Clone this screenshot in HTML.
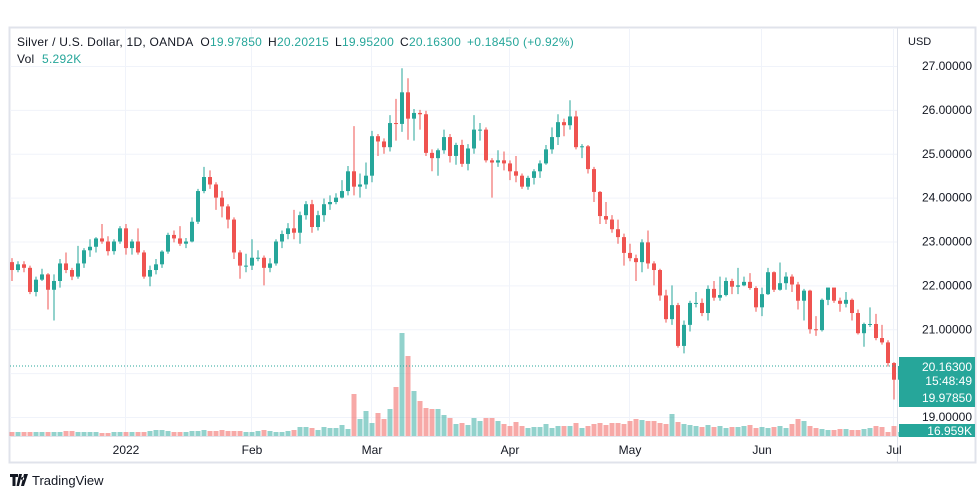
<!DOCTYPE html>
<html><head><meta charset="utf-8"><style>
html,body{margin:0;padding:0;background:#fff;width:979px;height:498px;overflow:hidden}
svg{display:block;font-family:"Liberation Sans",sans-serif}
</style></head><body>
<svg id="chart" width="979" height="498" viewBox="0 0 979 498">
<rect x="9.5" y="27.5" width="966" height="435" fill="#fff" stroke="#e0e3eb" stroke-width="2"/>
<g id="grid"></g>
<g id="vol"></g>
<g id="candles"></g>
<line x1="897.5" y1="28" x2="897.5" y2="462" stroke="#e0e3eb"/>
<line x1="10" y1="436.5" x2="975" y2="436.5" stroke="#e0e3eb"/>
<g id="yaxis"></g>
<g id="xaxis"></g>
<text x="17" y="46" font-size="12" letter-spacing="0.25" fill="#131722">Silver / U.S. Dollar, 1D, OANDA <tspan dx="4">O</tspan><tspan fill="#26a69a">19.97850</tspan><tspan dx="6">H</tspan><tspan fill="#26a69a">20.20215</tspan><tspan dx="6">L</tspan><tspan fill="#26a69a">19.95200</tspan><tspan dx="6">C</tspan><tspan fill="#26a69a">20.16300</tspan><tspan dx="6" fill="#26a69a">+0.18450 (+0.92%)</tspan></text>
<text x="17" y="63" font-size="12" letter-spacing="0.25" fill="#131722">Vol <tspan dx="4" fill="#26a69a">5.292K</tspan></text>
<text x="908" y="45" font-size="11" fill="#131722">USD</text>
<line id="pline" x1="10" x2="897" stroke="#26a69a" stroke-dasharray="1,2"/>
<g>
<rect x="899" y="357" width="76" height="50" fill="#26a69a"/>
<text x="972" y="371" font-size="12" fill="#fff" text-anchor="end">20.16300</text>
<text x="972" y="385" font-size="12" fill="#fff" text-anchor="end">15:48:49</text>
<text x="972" y="402" font-size="12" fill="#fff" text-anchor="end">19.97850</text>
</g>
<g>
<rect x="899" y="424" width="76" height="13" fill="#26a69a"/>
<text x="972" y="435" font-size="12" fill="#fff" text-anchor="end">16.959K</text>
</g>
<g>
<path d="M10 474h8v3h-2.5v9h-3v-9H10z M19 474h3l-3 12h-2.5z M22.5 477a1.6 1.6 0 1 0 0.1 0z M24 474h4l-4 12h-3z" fill="#131722"/>
<text x="32" y="485" font-size="13" fill="#131722">TradingView</text>
</g>
</svg>
<script>
const closes=[22.35,22.48,22.40,21.85,22.13,22.25,21.90,22.10,22.50,22.35,
22.20,22.50,22.80,22.88,23.07,23.00,22.78,23.00,23.30,22.85,
23.00,22.75,22.20,22.35,22.48,22.77,23.15,23.07,22.95,23.00,
23.45,24.15,24.47,24.30,24.00,23.80,23.50,22.75,22.45,22.45,
22.63,22.63,22.40,22.50,23.00,23.17,23.30,23.20,23.60,23.85,
23.33,23.60,23.85,23.90,24.00,24.15,24.60,24.25,24.30,24.50,
25.40,25.28,25.15,25.70,25.68,26.40,25.80,25.93,25.90,25.02,
24.90,25.08,25.38,24.95,25.20,24.77,25.12,25.55,25.55,24.85,
24.80,24.85,24.78,24.60,24.50,24.25,24.45,24.60,24.78,25.10,
25.38,25.72,25.65,25.85,25.15,25.17,24.65,24.13,23.58,23.50,
23.28,23.10,22.74,22.62,22.53,22.98,22.50,22.35,21.77,21.23,
21.55,20.62,21.10,21.60,21.60,21.37,21.92,21.72,21.78,22.10,
21.97,22.00,22.08,21.94,21.50,21.80,22.30,21.90,22.05,22.20,
22.02,21.65,21.88,21.00,20.98,21.67,21.95,21.65,21.58,21.67,
21.37,20.91,21.12,21.12,20.80,20.70,20.23,19.85,20.163];
const firstOpen=22.53;
const highs=[22.62,22.55,22.55,22.45,22.20,22.38,22.28,22.25,22.60,22.75,
22.40,22.90,22.85,23.05,23.10,23.40,23.12,23.05,23.35,23.40,
23.05,23.30,22.80,22.45,22.60,22.80,23.20,23.25,23.35,23.08,
23.55,24.20,24.70,24.62,24.35,24.15,23.85,23.55,22.80,22.72,
23.05,22.80,22.68,22.62,23.05,23.25,23.42,23.72,23.68,23.92,
23.95,23.70,23.98,24.05,24.10,24.40,24.72,25.63,24.55,24.80,
25.52,25.45,25.35,25.88,26.25,26.95,26.72,26.02,26.00,25.98,
25.10,25.12,25.55,25.45,25.25,25.32,25.22,25.88,25.70,25.60,
24.90,25.08,25.05,24.85,24.95,24.55,24.50,24.65,24.85,25.20,
25.60,25.90,25.80,26.22,25.98,25.22,25.20,24.70,24.15,23.90,
23.60,23.50,23.18,22.95,22.70,23.05,23.25,22.55,22.38,21.90,
22.00,21.60,21.20,21.65,21.85,21.70,22.00,22.10,22.20,22.18,
22.15,22.40,22.20,22.28,21.98,21.95,22.40,22.32,22.52,22.30,
22.25,22.08,21.92,21.90,21.30,21.70,21.95,21.95,21.72,21.85,
21.70,21.45,21.15,21.50,21.35,21.10,20.75,20.25,20.20];
const lows=[22.10,22.30,22.30,21.80,21.75,22.10,21.45,21.20,21.95,22.28,
22.12,22.15,22.40,22.65,22.75,22.95,22.68,22.70,22.95,22.70,
22.70,22.70,22.15,21.98,22.25,22.40,22.72,22.98,22.90,22.85,
22.98,23.40,24.10,24.20,23.72,23.55,23.30,22.60,22.15,22.30,
22.35,22.55,22.00,22.30,22.45,22.85,23.05,23.05,22.95,23.50,
23.20,23.25,23.45,23.72,23.85,23.98,24.05,24.05,24.00,24.20,
24.35,24.95,25.00,25.05,25.30,25.50,25.32,25.30,25.55,24.95,
24.60,24.50,25.00,24.80,24.75,24.70,24.62,25.00,25.30,24.80,
24.00,24.70,24.62,24.40,24.35,24.20,24.18,24.30,24.45,24.75,
25.00,25.20,25.40,25.55,25.10,24.90,24.55,23.90,23.40,23.40,
23.20,22.95,22.45,22.55,22.10,22.30,22.38,22.00,21.65,21.15,
21.10,20.58,20.45,20.95,21.50,21.30,21.20,21.65,21.65,21.75,
21.80,21.80,21.98,21.90,21.40,21.30,21.78,21.85,21.88,21.90,
21.85,21.45,21.20,20.90,20.85,20.95,21.55,21.60,21.40,21.50,
21.20,20.88,20.60,21.05,20.75,20.65,20.15,19.40,19.83];
const volumes=[4,4,4,4,4,4,4,4,4,5,
5,4,4,4,4,3,3,4,4,4,
4,4,4,5,6,6,5,4,4,4,
5,5,6,5,5,6,5,5,5,4,
4,5,6,5,4,4,5,6,9,9,
8,6,9,8,8,11,7,42,17,25,
13,23,17,27,49,103,80,45,35,28,
27,27,21,18,12,13,11,18,15,18,
18,15,12,10,14,10,8,9,9,12,
8,10,10,10,13,8,10,12,13,11,
13,13,12,15,17,16,15,15,13,12,
22,14,12,11,10,9,11,9,10,8,
9,9,10,11,8,9,8,9,10,8,
12,17,15,10,8,7,6,6,7,7,
6,6,7,8,10,9,4,10,4];
const priceTicks=[19,20,21,22,23,24,25,26,27];
const dateLabels=["2022","Feb","Mar","Apr","May","Jun","Jul"];
const dateIndex=[19,40,60,83,103,125,147];
const lastPrice=20.163;

const NS="http://www.w3.org/2000/svg";
const X0=12,STEP=6;
function xOf(i){return X0+STEP*i;}
function yOf(p){return 66+(27-p)*43.875;}
const VBASE=436,VMAX=103,VH=103;
function vh(v){return v/VMAX*VH;}
function mk(tag,attrs,parent){const e=document.createElementNS(NS,tag);for(const k in attrs)e.setAttribute(k,attrs[k]);parent.appendChild(e);return e;}

const grid=document.getElementById('grid');
priceTicks.forEach(p=>{
  const l=mk('line',{x1:10,x2:897,y1:yOf(p)+0.5,y2:yOf(p)+0.5,stroke:'#f0f3fa'},grid);
  
  
});
dateIndex.forEach(i=>{
  const l=mk('line',{x1:xOf(i)-0.5,x2:xOf(i)-0.5,y1:28,y2:436,stroke:'#f0f3fa'},grid);
  
  
});

const vol=document.getElementById('vol'),cg=document.getElementById('candles');
closes.forEach((c,i)=>{
  const o=i===0?firstOpen:closes[i-1];
  const up=c>=o;
  const col=up?'#26a69a':'#ef5350';
  const x=xOf(i);
  const h=vh(volumes[i]);
  const vb=mk('rect',{x:x-2.5,y:VBASE-h,width:5,height:h,fill:up?'rgba(38,166,154,0.5)':'rgba(239,83,80,0.5)'},vol);
  
  
  const w=mk('line',{x1:x,x2:x,y1:yOf(highs[i]),y2:yOf(lows[i]),stroke:col,'stroke-width':1},cg);
  
  
  const top=yOf(Math.max(o,c)),bot=yOf(Math.min(o,c));
  const b=mk('rect',{x:x-2,y:top,width:4,height:Math.max(1,bot-top),fill:col},cg);
  
  
});

const ya=document.getElementById('yaxis');
priceTicks.forEach(p=>{
  const t=mk('text',{x:972,y:yOf(p)+4,'font-size':12,fill:'#131722','text-anchor':'end'},ya);
  t.textContent=p.toFixed(5);
  
  
});
const xa=document.getElementById('xaxis');
dateLabels.forEach((d,k)=>{
  const t=mk('text',{x:xOf(dateIndex[k]),y:454,'font-size':12,fill:'#131722','text-anchor':'middle'},xa);
  t.textContent=d;
  
  
});
const pl=document.getElementById('pline');
pl.setAttribute('y1',yOf(lastPrice));pl.setAttribute('y2',yOf(lastPrice));
</script>
</body></html>
